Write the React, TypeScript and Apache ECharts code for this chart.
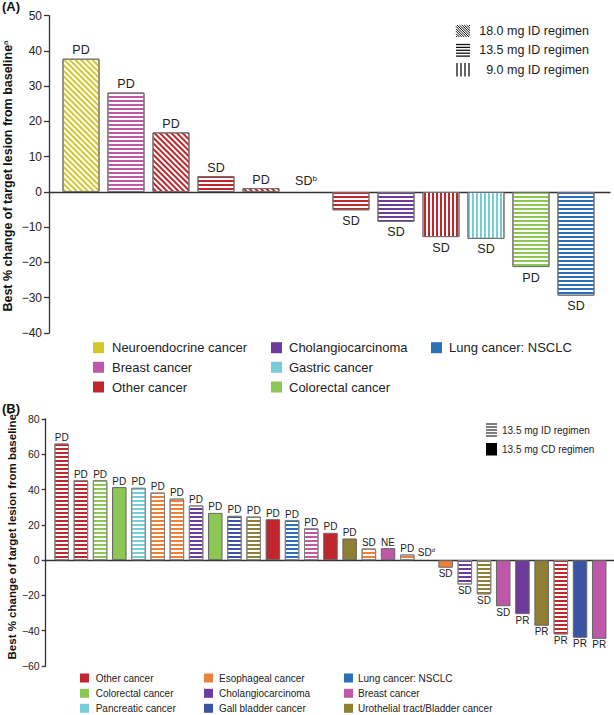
import React, { useEffect, useRef } from 'react';
import * as echarts from 'echarts';

const FONT = 'Liberation Sans, Arial, Helvetica, sans-serif';

// cancer types and colours
const cancerNames = [
  'Neuroendocrine cancer', 'Breast cancer', 'Other cancer', 'Cholangiocarcinoma',
  'Gastric cancer', 'Colorectal cancer', 'Lung cancer: NSCLC', 'Esophageal cancer',
  'Pancreatic cancer', 'Gall bladder cancer', 'Urothelial tract/Bladder cancer',
];
const cancerColors = [
  '#d3c72c', '#c058aa', '#c0262c', '#6c3b9b',
  '#75cdd9', '#8cc653', '#2a6fb7', '#ea823c',
  '#75cdd9', '#3b53a3', '#8e7f33',
];

// Panel A
const typesA = [
  'Neuroendocrine cancer', 'Breast cancer', 'Other cancer', 'Other cancer', 'Other cancer', '',
  'Other cancer', 'Cholangiocarcinoma', 'Other cancer', 'Gastric cancer', 'Colorectal cancer', 'Lung cancer: NSCLC',
];
const valuesA = [37.8, 28.2, 16.9, 4.5, 1.1, 0, -5.2, -8.5, -12.8, -13.3, -21.3, -29.4];
const regimenA = ['18.0', '13.5', '18.0', '13.5', '18.0', '', '13.5', '13.5', '9.0', '9.0', '13.5', '13.5'];
const responseA = ['PD', 'PD', 'PD', 'SD', 'PD', 'SD', 'SD', 'SD', 'SD', 'SD', 'PD', 'SD'];
const noteA = ['', '', '', '', '', 'b', '', '', '', '', '', ''];
const yTicksA = { min: -40, max: 50, interval: 10 };
const legendA = [
  ['Neuroendocrine cancer', 'Breast cancer', 'Other cancer'],
  ['Cholangiocarcinoma', 'Gastric cancer', 'Colorectal cancer'],
  ['Lung cancer: NSCLC'],
];
const regimenLegendA = ['18.0 mg ID regimen', '13.5 mg ID regimen', '9.0 mg ID regimen'];

// Panel B
const typesB = [
  'Other cancer', 'Other cancer', 'Colorectal cancer', 'Colorectal cancer', 'Pancreatic cancer',
  'Esophageal cancer', 'Esophageal cancer', 'Cholangiocarcinoma', 'Colorectal cancer', 'Gall bladder cancer',
  'Urothelial tract/Bladder cancer', 'Other cancer', 'Lung cancer: NSCLC', 'Breast cancer', 'Other cancer',
  'Urothelial tract/Bladder cancer', 'Esophageal cancer', 'Breast cancer', 'Esophageal cancer', '',
  'Esophageal cancer', 'Cholangiocarcinoma', 'Urothelial tract/Bladder cancer', 'Breast cancer', 'Cholangiocarcinoma',
  'Urothelial tract/Bladder cancer', 'Other cancer', 'Gall bladder cancer', 'Breast cancer',
];
const valuesB = [
  66.1, 45.3, 45.3, 41.4, 41.0, 38.3, 34.9, 31.0, 26.8, 25.1, 24.7, 23.2, 22.7, 18.0, 15.5,
  12.3, 6.6, 6.8, 3.2, 0, -4.3, -13.8, -19.4, -26.1, -30.6, -37.2, -42.1, -44.0, -44.6,
];
const regimenB = [
  'ID', 'ID', 'ID', 'CD', 'ID', 'ID', 'ID', 'ID', 'CD', 'ID', 'ID', 'CD', 'ID', 'ID', 'CD',
  'CD', 'ID', 'CD', 'ID', '', 'CD', 'ID', 'ID', 'CD', 'CD', 'CD', 'ID', 'CD', 'CD',
];
const responseB = [
  'PD', 'PD', 'PD', 'PD', 'PD', 'PD', 'PD', 'PD', 'PD', 'PD', 'PD', 'PD', 'PD', 'PD', 'PD',
  'PD', 'SD', 'NE', 'PD', 'SD', 'SD', 'SD', 'SD', 'SD', 'PR', 'PR', 'PR', 'PR', 'PR',
];
const noteB = valuesB.map((_, i) => (i === 19 ? 'd' : ''));
const yTicksB = { min: -60, max: 80, interval: 20 };
const legendB = [
  ['Other cancer', 'Colorectal cancer', 'Pancreatic cancer'],
  ['Esophageal cancer', 'Cholangiocarcinoma', 'Gall bladder cancer'],
  ['Lung cancer: NSCLC', 'Breast cancer', 'Urothelial tract/Bladder cancer'],
];
const regimenLegendB = ['13.5 mg ID regimen', '13.5 mg CD regimen'];

const colorOf = (name: string) => cancerColors[cancerNames.indexOf(name)] || '#000';

function decal(kind: string, color: string, line: number, gap: number): any {
  if (kind === 'diag') {
    return { symbol: 'rect', symbolSize: 1, color, dashArrayX: [1, 0], dashArrayY: [line, gap], rotation: Math.PI / 4 };
  }
  if (kind === 'vert') {
    return { symbol: 'rect', symbolSize: 1, color, dashArrayX: [line, gap], dashArrayY: [1, 0] };
  }
  return { symbol: 'rect', symbolSize: 1, color, dashArrayX: [1, 0], dashArrayY: [line, gap] };
}

function labelRich(fs: number) {
  return {
    r: { fontSize: fs, color: '#222', fontFamily: FONT },
    s: { fontSize: Math.round(fs * 0.6), color: '#222', fontFamily: FONT, verticalAlign: 'top', lineHeight: Math.round(fs * 0.6) },
  };
}

const fmtTick = (v: number) => (v < 0 ? '\u2212' + Math.abs(v) : String(v));

export default function App() {
  const ref = useRef<HTMLDivElement>(null);
  useEffect(() => {
    if (!ref.current) return;
    const chart = echarts.init(ref.current, undefined, { renderer: 'svg' });

    const dataA = valuesA.map((v, i) => {
      const t = typesA[i];
      const c = t ? colorOf(t) : 'transparent';
      const kind = regimenA[i] === '18.0' ? 'diag' : regimenA[i] === '9.0' ? 'vert' : 'horiz';
      const lab = noteA[i] ? `{r|${responseA[i]}}{s|${noteA[i]}}` : `{r|${responseA[i]}}`;
      return {
        value: [i, v],
        itemStyle: t
          ? { color: '#fff', borderColor: '#707070', borderWidth: 1, decal: decal(kind, c, 1.2, 1.3) }
          : { color: 'transparent', borderWidth: 0 },
        label: {
          show: true,
          position: v < 0 ? 'bottom' : 'top',
          distance: v < 0 ? 4 : v === 0 ? 4 : 2,
          formatter: lab,
          rich: labelRich(12.5),
        },
      };
    });

    const dataB = valuesB.map((v, i) => {
      const t = typesB[i];
      const c = t ? colorOf(t) : 'transparent';
      const solid = regimenB[i] === 'CD';
      const lab = noteB[i] ? `{r|${responseB[i]}}{s|${noteB[i]}}` : `{r|${responseB[i]}}`;
      return {
        value: [i, v],
        itemStyle: !t
          ? { color: 'transparent', borderWidth: 0 }
          : solid
            ? { color: c, borderColor: '#666', borderWidth: 1 }
            : { color: '#fff', borderColor: '#808080', borderWidth: 1, decal: decal('horiz', c, 1.6, 1.6) },
        label: {
          show: true,
          position: v < 0 ? 'bottom' : 'top',
          distance: v === 0 ? 3 : 1,
          formatter: lab,
          rich: labelRich(10),
        },
      };
    });

    const axisLine = { show: true, onZero: false, lineStyle: { color: '#333', width: 1.3 } };

    const graphics: any[] = [];
    // panel letters
    graphics.push({ type: 'text', left: 2, top: 0, style: { text: '(A)', font: `bold 13px ${FONT}`, fill: '#111' } });
    graphics.push({ type: 'text', left: 2, top: 402, style: { text: '(B)', font: `bold 13px ${FONT}`, fill: '#111' } });
    // y titles
    const yTitle = (x: number, y: number, fs: number, note: string) => ({
      type: 'text',
      x, y,
      rotation: Math.PI / 2,
      style: {
        text: `{t|Best % change of target lesion from baseline}{s|${note}}`,
        align: 'center',
        verticalAlign: 'middle',
        rich: {
          t: { fontSize: fs, fontWeight: 'bold', fontFamily: FONT, fill: '#111', color: '#111' },
          s: { fontSize: Math.round(fs * 0.6), fontFamily: FONT, color: '#111', verticalAlign: 'top', lineHeight: Math.round(fs * 0.6) },
        },
      },
    });
    graphics.push(yTitle(8, 176, 12.5, 'a'));
    graphics.push(yTitle(11.5, 535, 11.5, 'c'));

    // cancer legends
    const legend = (cols: string[][], xs: number[], tx: number[], ys: number[], sq: number, fs: number) => {
      cols.forEach((col, ci) => {
        col.forEach((name, ri) => {
          graphics.push({ type: 'rect', shape: { x: xs[ci], y: ys[ri] - sq / 2, width: sq, height: sq }, style: { fill: colorOf(name) } });
          graphics.push({ type: 'text', x: tx[ci], y: ys[ri], style: { text: name, font: `${fs}px ${FONT}`, fill: '#222', verticalAlign: 'middle' } });
        });
      });
    };
    legend(legendA, [93, 271, 431], [112, 289, 449], [347.7, 367.3, 387], 11, 13);
    legend(legendB, [80, 204, 344], [95.7, 219, 358], [678, 693.3, 708.3], 9, 10);

    // regimen legend A
    const lineStyle = { stroke: '#111', lineWidth: 1.3 };
    // diagonal icon
    {
      const x0 = 456, y0 = 25, w = 14, h = 12;
      for (let c = -h + 1; c < w; c += 2.4) {
        let sx = x0 + c, sy = y0, ex = x0 + c + h, ey = y0 + h;
        if (sx < x0) { sy += x0 - sx; sx = x0; }
        if (ex > x0 + w) { ey -= ex - (x0 + w); ex = x0 + w; }
        if (ex > sx) graphics.push({ type: 'line', shape: { x1: sx, y1: sy, x2: ex, y2: ey }, style: { stroke: '#111', lineWidth: 1 } });
      }
    }
    for (let k = 0; k < 5; k++) {
      graphics.push({ type: 'line', shape: { x1: 456, y1: 44.5 + k * 2.9, x2: 470, y2: 44.5 + k * 2.9 }, style: lineStyle });
    }
    for (let k = 0; k < 4; k++) {
      graphics.push({ type: 'line', shape: { x1: 457 + k * 4, y1: 63, x2: 457 + k * 4, y2: 76.5 }, style: lineStyle });
    }
    regimenLegendA.forEach((t, i) => {
      graphics.push({ type: 'text', x: 589, y: [31, 50, 69.7][i], style: { text: t, font: `12.5px ${FONT}`, fill: '#222', align: 'right', verticalAlign: 'middle' } });
    });
    // regimen legend B
    for (let k = 0; k < 5; k++) {
      graphics.push({ type: 'line', shape: { x1: 486, y1: 424 + k * 3, x2: 497, y2: 424 + k * 3 }, style: { stroke: '#111', lineWidth: 1.1 } });
    }
    graphics.push({ type: 'rect', shape: { x: 486, y: 443, width: 11, height: 12.5 }, style: { fill: '#000' } });
    regimenLegendB.forEach((t, i) => {
      graphics.push({ type: 'text', x: 502, y: [430, 449][i], style: { text: t, font: `10px ${FONT}`, fill: '#222', verticalAlign: 'middle' } });
    });

    chart.setOption({
      animation: false,
      backgroundColor: '#fff',
      textStyle: { fontFamily: FONT },
      grid: [
        { left: 49, right: 4, top: 15.7, bottom: 382 },
        { left: 45.7, right: 0, top: 419, bottom: 49 },
      ],
      xAxis: [
        {
          gridIndex: 0, type: 'value', min: -0.711, max: 11.756,
          axisLine: { show: true, onZero: true, lineStyle: { color: '#333', width: 1.3 } },
          axisTick: { show: false }, axisLabel: { show: false }, splitLine: { show: false },
        },
        {
          gridIndex: 1, type: 'value', min: -0.833, max: 28.77,
          axisLine: { show: true, onZero: true, lineStyle: { color: '#333', width: 1.3 } },
          axisTick: { show: false }, axisLabel: { show: false }, splitLine: { show: false },
        },
      ],
      yAxis: [
        {
          gridIndex: 0, type: 'value', ...yTicksA,
          axisLine, axisTick: { show: true, length: 5, lineStyle: { color: '#333', width: 1.3 } },
          axisLabel: { fontSize: 12, color: '#222', margin: 7, formatter: fmtTick, fontFamily: FONT },
          splitLine: { show: false },
        },
        {
          gridIndex: 1, type: 'value', ...yTicksB,
          axisLine, axisTick: { show: true, length: 4, lineStyle: { color: '#333', width: 1.3 } },
          axisLabel: { fontSize: 10.5, color: '#222', margin: 6, formatter: fmtTick, fontFamily: FONT },
          splitLine: { show: false },
        },
      ],
      series: [
        { type: 'bar', xAxisIndex: 0, yAxisIndex: 0, barWidth: 37, data: dataA },
        { type: 'bar', xAxisIndex: 1, yAxisIndex: 1, barWidth: 14.5, data: dataB },
      ],
      graphic: graphics,
    });

    return () => chart.dispose();
  }, []);

  return <div ref={ref} style={{ position: 'absolute', left: 0, top: 0, width: 614, height: 715 }} />;
}
